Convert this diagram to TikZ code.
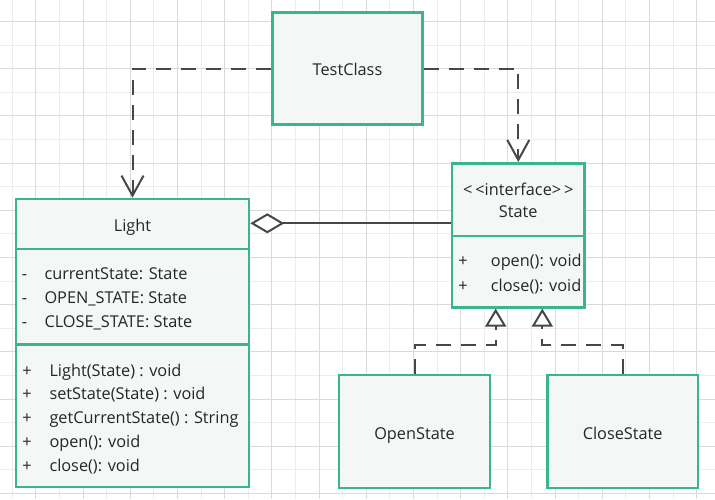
\documentclass[tikz,border=0pt]{standalone}
\usepackage{fontspec}
\setmainfont{Open Sans}
\usetikzlibrary{arrows.meta}
\definecolor{umlgreen}{HTML}{3AB58D}
\definecolor{umlfill}{HTML}{F3F7F5}
\definecolor{lnk}{HTML}{474747}
\definecolor{txt}{HTML}{262626}
\definecolor{gridminor}{HTML}{EDEDED}
\definecolor{gridmajor}{HTML}{DADADA}
\begin{document}
\begin{tikzpicture}[x=1pt,y=-1pt,
  box/.style={draw=umlgreen, fill=umlfill, line width=2.6pt, inner sep=0pt},
  sep/.style={draw=umlgreen, line width=2.6pt},
  lbl/.style={text=txt, font=\fontsize{16.3}{19}\selectfont, inner sep=0pt, anchor=base},
  lbll/.style={lbl, anchor=base west},
  dep/.style={draw=lnk, line width=2pt, dash pattern=on 15pt off 10pt,
    -{Straight Barb[length=20pt,width=22pt,line width=2pt]}},
  real/.style={draw=lnk, line width=2pt, dash pattern=on 15pt off 10pt,
    -{Triangle[open,fill=white,length=18pt,width=21pt,line width=2pt]}},
  agg/.style={draw=lnk, line width=2pt,
    {Diamond[open,fill=white,length=34pt,width=20pt,line width=2pt]}-}
]
\useasboundingbox (0,0) rectangle (715,499);
\fill[white] (0,0) rectangle (715,499);
% grid
\foreach \j in {0,...,14} {
  \draw[gridminor, line width=1pt] (12.3+47.2*\j,0) -- (12.3+47.2*\j,499);
}
\foreach \j in {0,...,9} {
  \draw[gridminor, line width=1pt] (0,45.1+47.2*\j) -- (715,45.1+47.2*\j);
}
\foreach \j in {0,...,14} {
  \draw[gridmajor, line width=1pt] (35.9+47.2*\j,0) -- (35.9+47.2*\j,499);
}
\foreach \j in {0,...,10} {
  \draw[gridmajor, line width=1pt] (0,21.5+47.2*\j) -- (715,21.5+47.2*\j);
}

% boxes
\node[box, minimum width=150.4pt, minimum height=111.6pt] (test) at (347.5,68.5) {};
\node[lbl] (testlbl) at (347.5,75) {TestClass};

\node[box, minimum width=233pt, minimum height=288pt] (light) at (132.5,343) {};
\draw[sep] (light.west |- 0,249) -- (light.east |- 0,249);
\draw[sep] (light.west |- 0,344.3) -- (light.east |- 0,344.3);
\node[lbl] (lighttitle) at (132.5,231) {Light};
\node[lbl] (la1m) at (24.5,279.3) {-};
\node[lbl] (la2m) at (24.5,303.3) {-};
\node[lbl] (la3m) at (24.5,327.3) {-};
\node[lbll] (la1) at (44.3,279.3) {currentState: State};
\node[lbll] (la2) at (44.3,303.3) {OPEN\_STATE: State};
\node[lbll] (la3) at (44.3,327.3) {CLOSE\_STATE: State};
\node[lbl] (lm1p) at (27,376) {+};
\node[lbl] (lm2p) at (27,399.8) {+};
\node[lbl] (lm3p) at (27,423.5) {+};
\node[lbl] (lm4p) at (27,447.3) {+};
\node[lbl] (lm5p) at (27,471) {+};
\node[lbll] (lm1) at (49.3,376) {Light(State) : void};
\node[lbll] (lm2) at (49.3,399.8) {setState(State) : void};
\node[lbll] (lm3) at (49.3,423.5) {getCurrentState() : String};
\node[lbll] (lm4) at (49.3,447.3) {open(): void};
\node[lbll] (lm5) at (49.3,471) {close(): void};

\node[box, minimum width=132.7pt, minimum height=144pt] (state) at (518.3,235.3) {};
\draw[sep] (state.west |- 0,236) -- (state.east |- 0,236);
\node[lbl] (stster) at (518.3,195) {<\hspace{3pt}<interface>\hspace{3pt}>};
\node[lbl] (sttitle) at (518.3,217.7) {State};
\node[lbl] (sm1p) at (463,266.7) {+};
\node[lbl] (sm2p) at (463,291.3) {+};
\node[lbll] (sm1) at (490.7,266.7) {open(): void};
\node[lbll] (sm2) at (490.7,291.3) {close(): void};

\node[box, minimum width=151pt, minimum height=113pt] (open) at (414.5,431.5) {};
\node[lbl] (openlbl) at (414.5,439.3) {OpenState};
\node[box, minimum width=150.7pt, minimum height=113pt] (close) at (622.7,431.5) {};
\node[lbl] (closelbl) at (622.7,439.3) {CloseState};

% connectors
\coordinate (aggy) at (0,223.3);
\coordinate (rly) at (0,345);
\draw[dep] (test.west) -| (light.north);
\draw[dep] (test.east) -| (state.north);
\draw[agg] (light.east |- aggy) -- (state.west |- aggy);
\draw[real] (open.north) -- (open.north |- rly) -| ([xshift=-22.6pt]state.south);
\draw[real] (close.north) -- (close.north |- rly) -| ([xshift=24pt]state.south);
\end{tikzpicture}
\end{document}
